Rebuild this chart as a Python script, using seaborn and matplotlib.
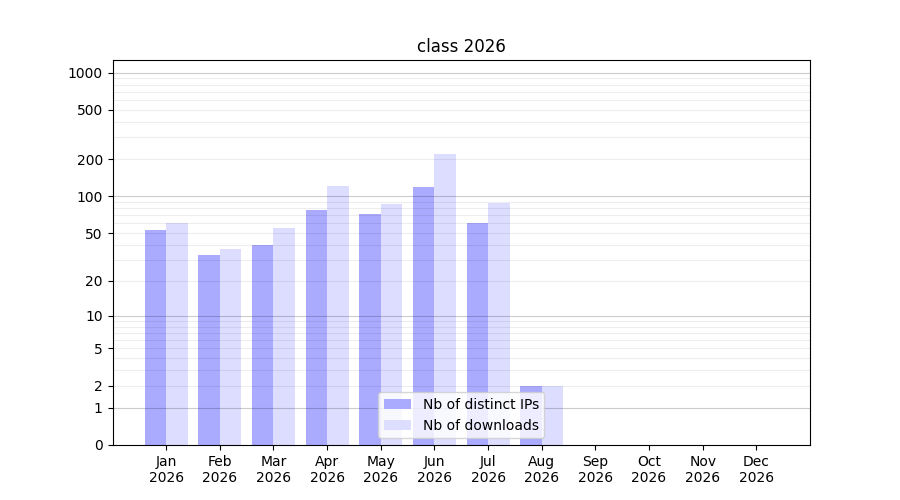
import matplotlib
matplotlib.use("Agg")
import matplotlib.pyplot as plt
import matplotlib.ticker as mticker
import numpy as np
import pandas as pd
import seaborn as sns

months = ["Jan", "Feb", "Mar", "Apr", "May", "Jun",
          "Jul", "Aug", "Sep", "Oct", "Nov", "Dec"]
year = "2026"
distinct_ips = [53, 33, 40, 77, 72, 118, 61, 2, 0, 0, 0, 0]
downloads = [61, 37, 55, 122, 86, 220, 88, 2, 0, 0, 0, 0]
series_names = ["Nb of distinct IPs", "Nb of downloads"]
ytick_values = [0, 1, 2, 5, 10, 20, 50, 100, 200, 500, 1000]

labels = ["{}\n{}".format(m, year) for m in months]
df = pd.DataFrame({
    "month": labels * 2,
    "value": distinct_ips + downloads,
    "series": [series_names[0]] * 12 + [series_names[1]] * 12,
})

fig, ax = plt.subplots(figsize=(9, 5), dpi=100)
sns.barplot(data=df, x="month", y="value", hue="series", order=labels,
            hue_order=series_names,
            palette={series_names[0]: "#aaaaff", series_names[1]: "#ddddff"},
            saturation=1, width=0.8, ax=ax)

# log(1+x) scale so that zero fits on the axis
ax.set_yscale("function", functions=(lambda v: np.log10(1 + np.clip(v, 0, None)),
                                     lambda v: 10 ** v - 1))
ax.set_ylim(0, 1263)
ax.set_xlim(-1, 12)
ax.set_yticks(ytick_values)
ax.set_yticklabels([str(v) for v in ytick_values])
ax.yaxis.set_minor_locator(mticker.NullLocator())

for k in [1, 10, 100]:
    for m in range(2, 10):
        ax.axhline(m * k, color="black", alpha=0.07, lw=0.8)
for v in [1, 10, 100, 1000]:
    ax.axhline(v, color="black", alpha=0.2, lw=0.8)

ax.set_xlabel("")
ax.set_ylabel("")
ax.set_title("class 2026")

handles, leg_labels = ax.get_legend_handles_labels()
ax.legend(handles, leg_labels, loc="lower center")

fig.savefig("out.png", dpi=100)
